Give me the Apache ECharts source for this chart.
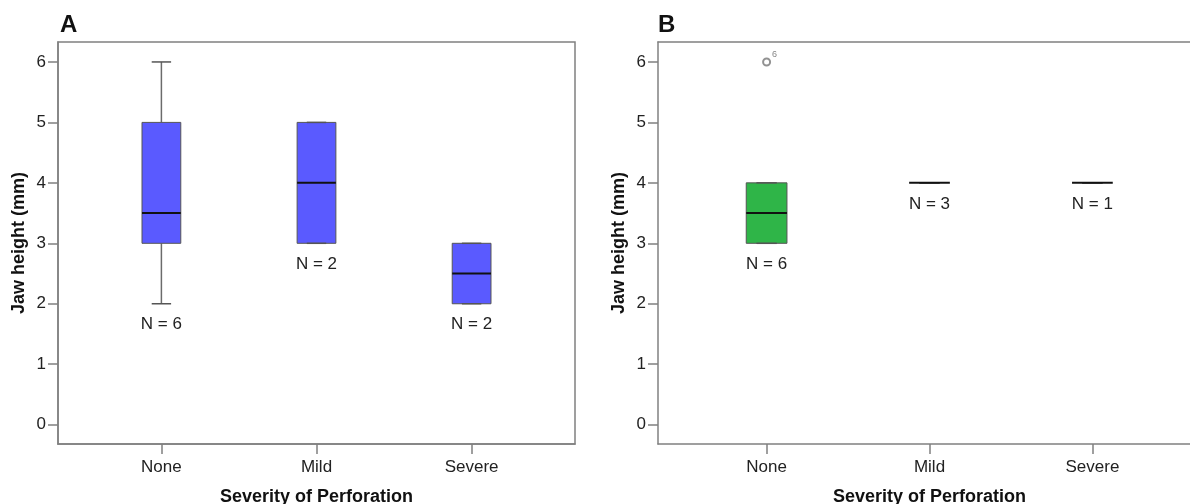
<!DOCTYPE html>
<html>
<head>
<meta charset="utf-8">
<script src="https://cdn.jsdelivr.net/npm/echarts@6/dist/echarts.min.js"></script>
<style>
  html, body { margin: 0; padding: 0; background: #fff; }
  #chart { width: 1190px; height: 504px; }
</style>
</head>
<body>
<div id="chart"></div>
<script>
// Jaw height by severity of perforation, two panels
var categories = ['None', 'Mild', 'Severe']
var yTicks = [0, 1, 2, 3, 4, 5, 6]

// [min, Q1, median, Q3, max] per category
var boxA = [[2, 3, 3.5, 5, 6], [3, 3, 4, 5, 5], [2, 2, 2.5, 3, 3]]
var countA = [6, 2, 2]
var boxB = [[3, 3, 3.5, 4, 4], [4, 4, 4, 4, 4], [4, 4, 4, 4, 4]]
var countB = [6, 3, 1]

// outliers in panel B: [category position, value], and their case numbers
var outliersB = [[1, 6]]
var outlierCaseB = ['6']

var font = 'Liberation Sans, Arial, sans-serif'
var axisGray = '#808080'

function boxData (boxes, counts) {
  return boxes.map(function (b, i) {
    return [i + 1].concat(b).concat([counts[i]])
  })
}

function renderBox (color) {
  return function (params, api) {
    var x = api.value(0)
    var cx = api.coord([x, 0])[0]
    var bw = api.size([0.25, 0])[0]
    var y = [1, 2, 3, 4, 5].map(function (d) { return api.coord([x, api.value(d)])[1] })
    var yMin = y[0], yQ1 = y[1], yMed = y[2], yQ3 = y[3], yMax = y[4]
    var whisker = { stroke: '#6b6b6b', lineWidth: 1.5 }
    var kids = []
    kids.push({ type: 'line', shape: { x1: cx, y1: yQ3, x2: cx, y2: yMax }, style: whisker })
    kids.push({ type: 'line', shape: { x1: cx, y1: yQ1, x2: cx, y2: yMin }, style: whisker })
    if (yQ1 - yQ3 > 0.5) {
      kids.push({
        type: 'rect',
        shape: { x: cx - bw / 2, y: yQ3, width: bw, height: yQ1 - yQ3 },
        style: { fill: color, stroke: '#555', lineWidth: 1 }
      })
    }
    kids.push({ type: 'line', shape: { x1: cx - bw / 4, y1: yMax, x2: cx + bw / 4, y2: yMax }, style: { stroke: '#555', lineWidth: 1.5 } })
    kids.push({ type: 'line', shape: { x1: cx - bw / 4, y1: yMin, x2: cx + bw / 4, y2: yMin }, style: { stroke: '#555', lineWidth: 1.5 } })
    kids.push({ type: 'line', shape: { x1: cx - bw / 2, y1: yMed, x2: cx + bw / 2, y2: yMed }, style: { stroke: '#111', lineWidth: 2 } })
    kids.push({
      type: 'text',
      x: cx,
      y: yMin + 21,
      style: {
        text: 'N = ' + api.value(6),
        align: 'center',
        verticalAlign: 'middle',
        fontSize: 17,
        fontFamily: font,
        fill: '#222'
      }
    })
    return { type: 'group', children: kids }
  }
}

function xAxisFor (gridIndex) {
  return {
    type: 'value',
    gridIndex: gridIndex,
    min: 1 / 3,
    max: 3 + 2 / 3,
    splitLine: { show: false },
    axisLine: { onZero: false, lineStyle: { color: axisGray, width: 1.5 } },
    axisTick: { customValues: [1, 2, 3], length: 10, lineStyle: { color: axisGray, width: 1.5 } },
    axisLabel: {
      customValues: [1, 2, 3],
      formatter: function (v) { return categories[Math.round(v) - 1] },
      margin: 15,
      fontSize: 17,
      fontFamily: font,
      color: '#222'
    },
    name: 'Severity of Perforation',
    nameLocation: 'middle',
    nameGap: 44,
    nameTextStyle: { fontSize: 18, fontWeight: 'bold', fontFamily: font, color: '#111' }
  }
}

function yAxisFor (gridIndex) {
  return {
    type: 'value',
    gridIndex: gridIndex,
    min: -0.32,
    max: 6.33,
    splitLine: { show: false },
    axisLine: { onZero: false, lineStyle: { color: axisGray, width: 1.5 } },
    axisTick: { customValues: yTicks, length: 10, lineStyle: { color: axisGray, width: 1.5 } },
    axisLabel: { customValues: yTicks, margin: 12, fontSize: 17, fontFamily: font, color: '#222' },
    name: 'Jaw height (mm)',
    nameLocation: 'middle',
    nameRotate: 90,
    nameGap: 30,
    nameTextStyle: { fontSize: 18, fontWeight: 'bold', fontFamily: font, color: '#111' }
  }
}

// panel B runs past the right edge of the picture, so only its top edge is drawn as a frame
var topFrameB = {
  type: 'value',
  gridIndex: 1,
  position: 'top',
  min: 1 / 3,
  max: 3 + 2 / 3,
  axisLine: { onZero: false, lineStyle: { color: axisGray, width: 1.5 } },
  axisTick: { show: false },
  axisLabel: { show: false },
  splitLine: { show: false }
}

var chart = echarts.init(document.getElementById('chart'))

chart.setOption({
  animation: false,
  backgroundColor: '#fff',
  title: [
    { text: 'A', left: 60, top: 13, padding: 0, textStyle: { fontSize: 24, fontWeight: 'bold', fontFamily: font, color: '#111' } },
    { text: 'B', left: 658, top: 13, padding: 0, textStyle: { fontSize: 24, fontWeight: 'bold', fontFamily: font, color: '#111' } }
  ],
  grid: [
    { left: 58, top: 42, width: 517, height: 402, show: true, borderColor: axisGray, borderWidth: 1.5, containLabel: false, outerBoundsMode: 'none' },
    { left: 658, top: 42, width: 543, height: 402, show: false, containLabel: false, outerBoundsMode: 'none' }
  ],
  xAxis: [xAxisFor(0), xAxisFor(1), topFrameB],
  yAxis: [yAxisFor(0), yAxisFor(1)],
  series: [
    {
      type: 'custom',
      xAxisIndex: 0,
      yAxisIndex: 0,
      renderItem: renderBox('#5a5aff'),
      data: boxData(boxA, countA)
    },
    {
      type: 'custom',
      xAxisIndex: 1,
      yAxisIndex: 1,
      renderItem: renderBox('#2fb548'),
      data: boxData(boxB, countB)
    },
    {
      type: 'scatter',
      xAxisIndex: 1,
      yAxisIndex: 1,
      symbol: 'emptyCircle',
      symbolSize: 7,
      itemStyle: { color: '#777', borderWidth: 1 },
      label: {
        show: true,
        position: [10, -7],
        formatter: function (p) { return outlierCaseB[p.dataIndex] },
        fontSize: 9,
        fontFamily: font,
        color: '#666'
      },
      data: outliersB
    }
  ]
})
</script>
</body>
</html>
